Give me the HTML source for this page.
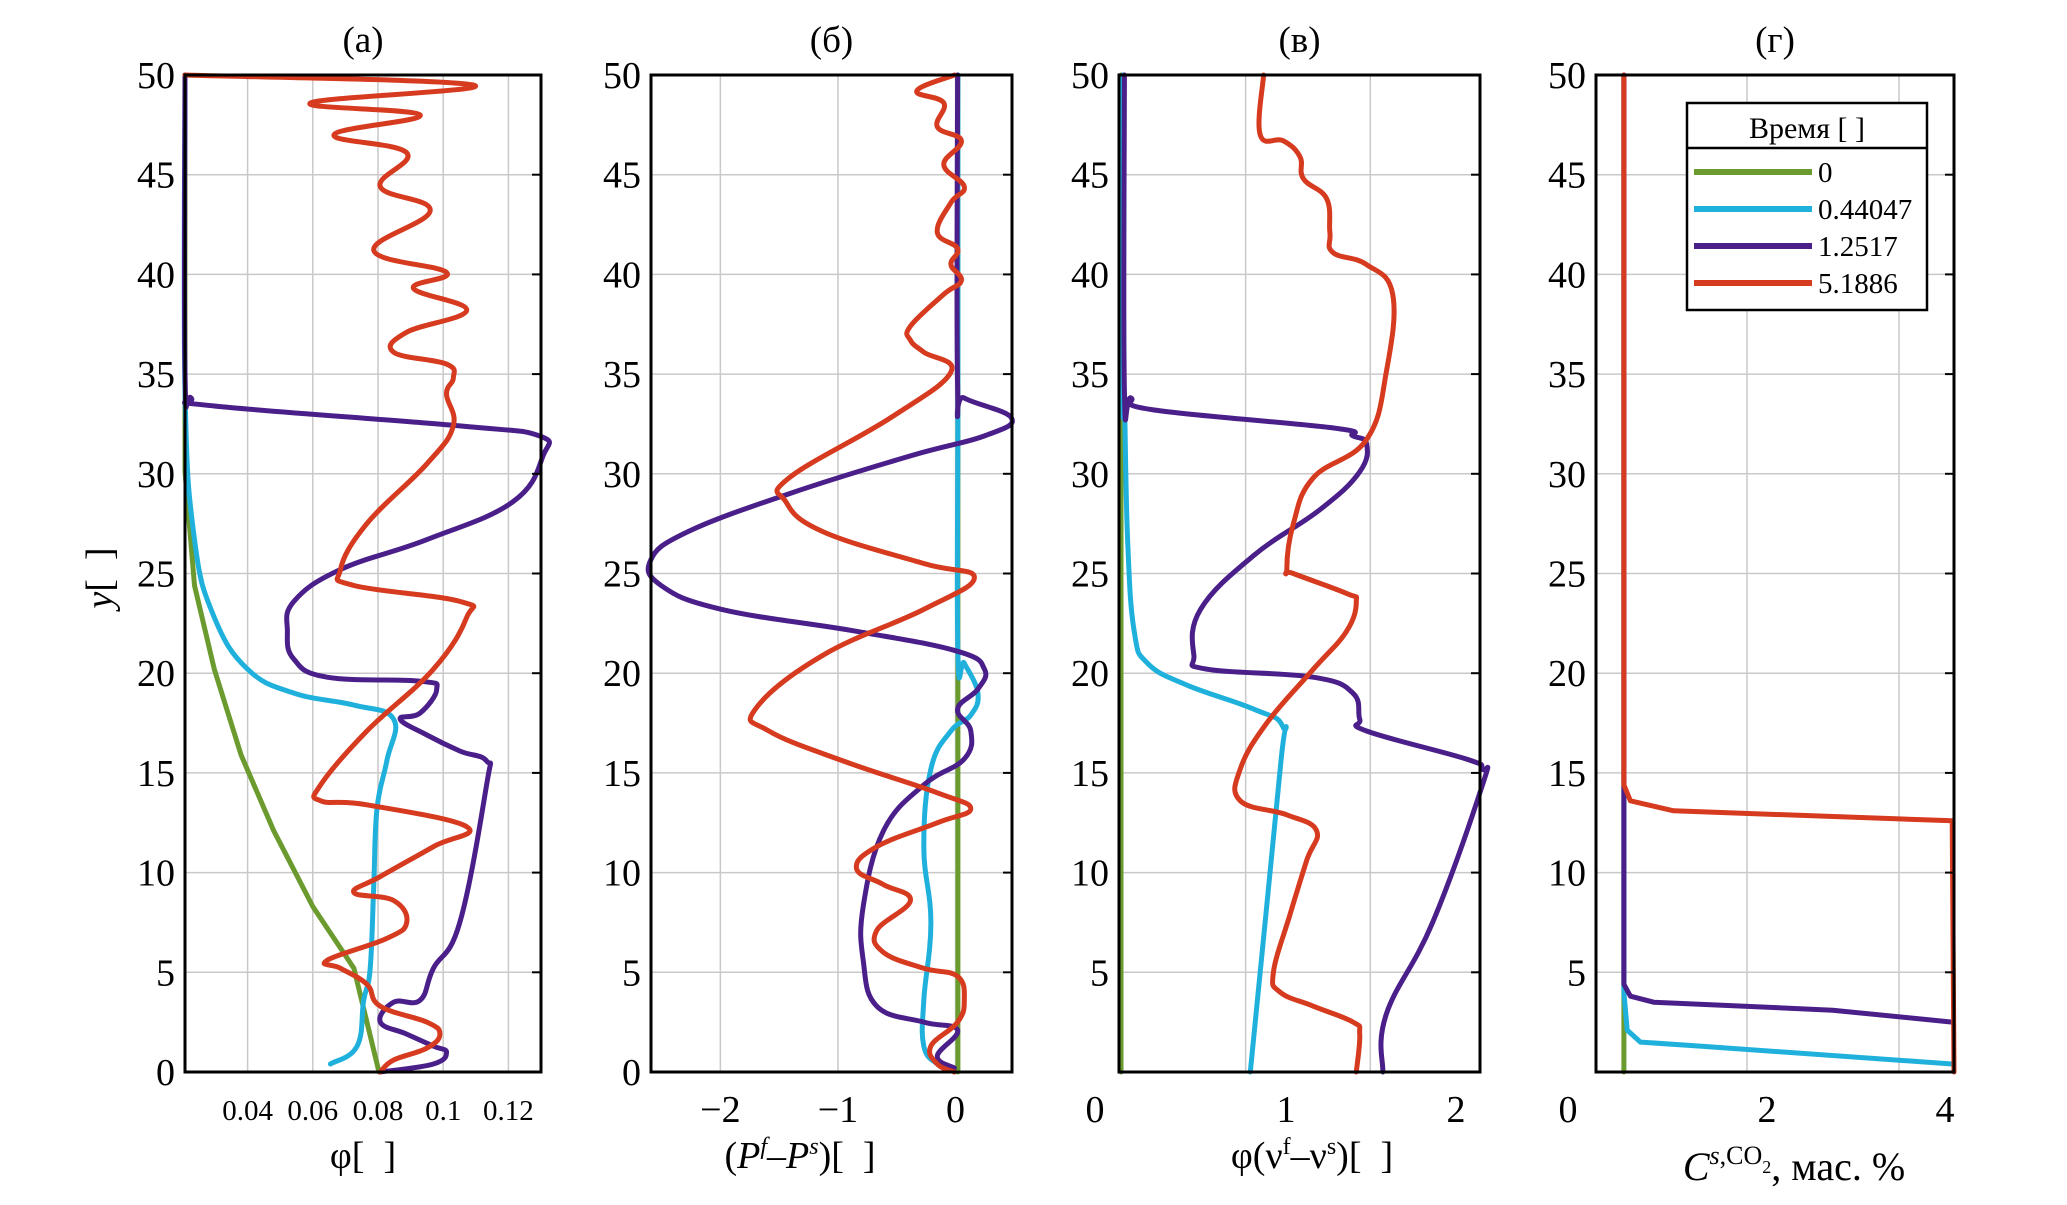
<!DOCTYPE html>
<html><head><meta charset="utf-8"><style>
html,body{margin:0;padding:0;background:#fff;}
svg{display:block;font-family:"Liberation Serif","DejaVu Serif",serif;}
</style></head><body>
<svg id="chart" width="2067" height="1205" viewBox="0 0 2067 1205" xmlns="http://www.w3.org/2000/svg">
<g id="grids"></g>
<g id="series"></g>
<g id="frames"></g>
<g id="labels"></g>
<g id="legend"></g>
</svg>
<script>
// ---- data (x, y pairs in data units) ----
const yTicks = [0,5,10,15,20,25,30,35,40,45,50];
const legendLabels = ["0","0.44047","1.2517","5.1886"];
const seriesColors = ["#6b9b2f","#1fb1dc","#4a1f8a","#d63a1f"];
// panel a
const aGreen = [[0.0208,50],[0.0208,30.1],[0.0237,24.4],[0.0298,20.2],[0.038,15.9],[0.048,12.1],[0.060,8.3],[0.0726,5.2],[0.0803,0]];
const aCyan = [[0.0208,50],[0.0208,34.2],[0.0237,26.7],[0.0298,22.8],[0.04,20.2],[0.0542,19.0],[0.0726,18.4],[0.0848,17.7],[0.0827,15.6],[0.0797,13.2],[0.0787,9.4],[0.0776,5.2],[0.0756,3.6],[0.0736,1.3],[0.0654,0.4]];
const aPurple = [[0.0208,50],[0.0208,35.1],[0.0227,33.8],[0.0298,33.4],[0.1051,32.4],[0.1295,31.9],[0.1306,30.9],[0.1214,28.6],[0.095,26.7],[0.0685,25.2],[0.0542,23.6],[0.0522,22.1],[0.0542,20.7],[0.0644,19.8],[0.0929,19.6],[0.098,19.2],[0.0929,18.0],[0.0868,17.7],[0.095,16.9],[0.1051,16.1],[0.1133,15.6],[0.1133,14.4],[0.1051,7.5],[0.097,5.2],[0.0929,3.6],[0.0848,3.5],[0.0807,2.5],[0.0888,1.9],[0.097,1.3],[0.101,1.0],[0.097,0.4],[0.0807,0]];
const aRed = [[0.0208,50],[0.1092,49.5],[0.0593,48.6],[0.0929,48.0],[0.0665,47.0],[0.0888,46.1],[0.0807,44.4],[0.096,43.2],[0.0787,41.2],[0.101,40.1],[0.0909,39.3],[0.1072,38.2],[0.0888,37.1],[0.0848,36.1],[0.101,35.5],[0.1031,34.8],[0.101,34.0],[0.1031,32.4],[0.095,30.5],[0.0766,27.5],[0.0685,25.2],[0.0726,24.4],[0.1051,23.6],[0.1072,22.8],[0.097,20.2],[0.0766,17.1],[0.0624,14.4],[0.0624,13.6],[0.0766,13.4],[0.1072,12.3],[0.097,11.3],[0.0807,9.8],[0.0726,9.0],[0.0848,8.6],[0.0888,7.5],[0.0827,6.7],[0.0644,5.6],[0.0685,5.2],[0.0766,4.4],[0.0807,3.3],[0.095,2.5],[0.099,1.9],[0.095,1.2],[0.0848,0.6],[0.0807,0]];
// panel b
const bGreen = [[0.02,0],[0.02,50]];
const bCyan = [[0.02,50],[0.02,34],[0.02,21],[0.074,20.5],[0.19,19.0],[0.13,17.9],[-0.04,17.1],[-0.21,15.2],[-0.27,11.3],[-0.21,7.5],[-0.27,3.6],[-0.27,1.3],[-0.155,0.4],[-0.04,0.1]];
const bPurple = [[0.017,50],[0.017,34.4],[0.074,33.8],[0.476,32.8],[0.246,31.9],[-0.384,30.9],[-1.415,29.0],[-2.275,27.1],[-2.59,25.7],[-2.504,24.4],[-1.989,23.2],[-0.842,22.1],[0.017,21.1],[0.246,20.2],[0.189,19.2],[0.017,18.2],[0.13,17.1],[0.074,15.7],[-0.27,14.4],[-0.613,12.1],[-0.785,8.3],[-0.785,5.6],[-0.67,3.3],[-0.27,2.5],[0.017,2.1],[-0.155,0.8],[-0.01,0.2]];
const bRed = [[-0.01,50],[-0.33,49.2],[-0.10,48.6],[-0.155,47.4],[0.05,46.7],[-0.10,45.5],[0.074,44.4],[-0.04,43.6],[-0.155,42.1],[0.017,41.3],[-0.04,40.5],[0.05,39.7],[-0.10,39.0],[-0.384,37.4],[-0.384,36.7],[-0.27,36.1],[-0.04,35.1],[-0.556,32.8],[-1.415,29.8],[-1.444,28.6],[-1.129,27.1],[-0.27,25.5],[0.16,24.8],[-0.27,23.2],[-1.129,20.9],[-1.702,18.2],[-1.587,17.1],[-0.957,15.6],[-0.155,14.0],[0.13,13.2],[-0.155,12.5],[-0.67,11.3],[-0.842,10.2],[-0.613,9.4],[-0.384,8.6],[-0.67,7.1],[-0.613,6.0],[-0.27,5.2],[0.017,4.8],[0.074,3.6],[0.017,2.5],[-0.21,1.3],[-0.155,0.4],[-0.01,0]];
// panel c
const cGreen = [[0,0],[0,50]];
const cCyan = [[0.016,50],[0.016,34],[0.027,33.8],[0.053,26.7],[0.106,22.1],[0.213,20.5],[0.53,19.4],[1.064,18.2],[1.30,17.3],[1.277,15.2],[1.037,0]];
const cPurple = [[0.027,50],[0.027,34.2],[0.08,33.8],[0.266,33.2],[1.70,32.3],[1.86,31.9],[1.97,31.5],[1.915,30.1],[1.596,28.2],[1.064,25.9],[0.638,23.2],[0.585,20.9],[0.69,20.2],[1.543,19.8],[1.86,19.0],[1.915,17.7],[1.97,17.1],[2.766,15.7],[2.90,15.2],[2.90,14.4],[2.5,7.5],[2.128,2.9],[2.10,0]];
const cRed = [[1.144,50],[1.117,47.0],[1.303,46.7],[1.436,45.9],[1.463,44.8],[1.649,43.8],[1.676,42.1],[1.70,41.1],[1.968,40.5],[2.18,39.0],[2.128,35.1],[1.968,31.7],[1.543,29.8],[1.383,27.5],[1.33,25.2],[1.383,25.0],[1.809,24.0],[1.888,23.6],[1.809,22.1],[1.543,20.2],[1.17,17.5],[0.957,15.2],[0.957,13.6],[1.33,12.9],[1.569,12.1],[1.489,10.6],[1.356,7.9],[1.223,5.0],[1.277,4.0],[1.543,3.3],[1.862,2.5],[1.915,1.9],[1.888,0]];
// panel d
const dGreen = [[0.39,0],[0.39,50]];
const dCyan = [[0.39,50],[0.39,4.0],[0.427,2.1],[0.577,1.5],[1.25,1.3],[4.10,0.4]];
const dPurple = [[0.39,50],[0.39,4.4],[0.464,3.8],[0.727,3.5],[2.75,3.1],[4.10,2.5]];
const dRed = [[0.39,50],[0.39,14.4],[0.464,13.6],[0.951,13.1],[4.10,12.6],[4.12,0]];
const aXTicks = [0.04,0.06,0.08,0.1,0.12];
const bXTicks = [-2,-1,0];

const NS="http://www.w3.org/2000/svg";
function mk(tag,attrs,parent){const e=document.createElementNS(NS,tag);for(const k in attrs)e.setAttribute(k,attrs[k]);parent.appendChild(e);return e;}
function lin(d0,d1,r0,r1){return v=>r0+(v-d0)/(d1-d0)*(r1-r0);}
const Y0=75,Y1=1072;
const sy=lin(0,50,Y1,Y0);
const panels=[
 {id:"a",x0:185,x1:541,sx:lin(0.0208,0.130,185,541),data:[aGreen,aCyan,aPurple,aRed],title:"(а)",smooth:true},
 {id:"b",x0:651,x1:1012,sx:lin(-2.59,0.48,651,1012),data:[bGreen,bCyan,bPurple,bRed],title:"(б)",smooth:true},
 {id:"c",x0:1119,x1:1480,sx:lin(-0.016,2.88,1119,1480),data:[cGreen,cCyan,cPurple,cRed],title:"(в)",smooth:true},
 {id:"d",x0:1596,x1:1954,sx:lin(0.075,4.12,1596,1954),data:[dGreen,dCyan,dPurple,dRed],title:"(г)",smooth:false}
];
function pathD(pts,smooth){
  if(!smooth||pts.length<3) return pts.map((p,j)=>(j?"L":"M")+p[0].toFixed(1)+","+p[1].toFixed(1)).join("");
  let d="M"+pts[0][0].toFixed(1)+","+pts[0][1].toFixed(1);
  for(let i=0;i<pts.length-1;i++){
    const p0=pts[Math.max(0,i-1)],p1=pts[i],p2=pts[i+1],p3=pts[Math.min(pts.length-1,i+2)];
    const t=0.2;
    const c1=[p1[0]+(p2[0]-p0[0])*t,p1[1]+(p2[1]-p0[1])*t];
    const c2=[p2[0]-(p3[0]-p1[0])*t,p2[1]-(p3[1]-p1[1])*t];
    d+="C"+c1[0].toFixed(1)+","+c1[1].toFixed(1)+" "+c2[0].toFixed(1)+","+c2[1].toFixed(1)+" "+p2[0].toFixed(1)+","+p2[1].toFixed(1);
  }
  return d;
}
const G=document.getElementById("grids"),S=document.getElementById("series"),F=document.getElementById("frames"),L=document.getElementById("labels"),LG=document.getElementById("legend");
const names=["t0","t044047","t12517","t51886"];
panels.forEach(p=>{
  yTicks.forEach(t=>{ if(t===0||t===50) return;
    const l=mk("line",{x1:p.x0,x2:p.x1,y1:sy(t),y2:sy(t),stroke:"#c9c9c9","stroke-width":1.5},G);
    
    
    const tk=mk("line",{x1:p.x1-9,x2:p.x1,y1:sy(t),y2:sy(t),stroke:"#000","stroke-width":2},F);
    
    
  });
  let vx=[];
  if(p.id==="a") vx=aXTicks.map(p.sx);
  if(p.id==="b") vx=bXTicks.map(p.sx);
  if(p.id==="c") vx=[1,2].map(p.sx);
  if(p.id==="d") vx=[1747,1899];
  vx.forEach(x=>{
    const l=mk("line",{x1:x,x2:x,y1:Y0,y2:Y1,stroke:"#c9c9c9","stroke-width":1.5},G);
    
    
  });
  p.data.forEach((arr,i)=>{
    const pts=arr.map(pt=>[p.sx(pt[0]),sy(pt[1])]);
    const path=mk("path",{d:pathD(pts,p.smooth&&i>0),fill:"none",stroke:seriesColors[i],"stroke-width":5,"stroke-linejoin":"round","stroke-linecap":"round"},S);
    
    
  });
  const r=mk("rect",{x:p.x0,y:Y0,width:p.x1-p.x0,height:Y1-Y0,fill:"none",stroke:"#000","stroke-width":3},F);
  
  
  const tt=mk("text",{x:(p.x0+p.x1)/2,y:52,"font-size":37,"text-anchor":"middle"},L);
  tt.textContent=p.title;
  
  
  yTicks.forEach(t=>{
    if(t===0&&(p.id==="c"||p.id==="d")) return;
    const tx=mk("text",{x:p.x0-10,y:sy(t)+13,"font-size":38,"text-anchor":"end"},L);
    tx.textContent=String(t);
    
    
  });
});
function txt(s,x,y,fs,anchor,name){const t=mk("text",{x:x,y:y,"font-size":fs,"text-anchor":anchor||"middle"},L);t.innerHTML=s;return t;}
aXTicks.forEach(v=>{txt(String(v),panels[0].sx(v),1120,29,"middle","x-tick-label");});
bXTicks.forEach(v=>{txt(v<0?"\u2212"+(-v):String(v),panels[1].sx(v),1122,38,"middle","x-tick-label");});
[["0",1095],["1",1286],["2",1456]].forEach(a=>txt(a[0],a[1],1122,38,"middle","x-tick-label"));
[["0",1568],["2",1767],["4",1945]].forEach(a=>txt(a[0],a[1],1122,38,"middle","x-tick-label"));
txt("φ[&#160;&#160;]",363,1168,38,"middle","x-axis-title-a");
txt("(<tspan font-style='italic'>P</tspan><tspan font-size='24' dy='-14' font-style='italic'>f</tspan><tspan dy='14'>–</tspan><tspan font-style='italic'>P</tspan><tspan font-size='24' dy='-14' font-style='italic'>s</tspan><tspan dy='14'>)[&#160;&#160;]</tspan>",800,1168,38,"middle","x-axis-title-b");
txt("φ(ν<tspan font-size='24' dy='-14'>f</tspan><tspan dy='14'>–ν</tspan><tspan font-size='24' dy='-14'>s</tspan><tspan dy='14'>)[&#160;&#160;]</tspan>",1312,1168,38,"middle","x-axis-title-c");
txt("<tspan font-style='italic'>C</tspan><tspan font-size='26' dy='-16' font-style='italic'>s</tspan><tspan font-size='26'>,CO</tspan><tspan font-size='18' dy='9'>2</tspan><tspan dy='7'>, мас. %</tspan>",1794,1180,40,"middle","x-axis-title-d");
const yl=txt("<tspan font-style='italic'>y</tspan>[&#160;&#160;]",0,0,38,"middle","y-axis-title");
yl.setAttribute("transform","translate(112,578) rotate(-90)");
// legend
const lb=mk("rect",{x:1687,y:103,width:240,height:207,fill:"#fff",stroke:"#000","stroke-width":2.5},LG);


const ls=mk("line",{x1:1687,x2:1927,y1:148,y2:148,stroke:"#000","stroke-width":2.5},LG);


const lt=mk("text",{x:1807,y:138,"font-size":30,"text-anchor":"middle"},LG);
lt.textContent="Время [ ]";


const ly=[172,209,246,283];
legendLabels.forEach((s,i)=>{
  const g=mk("g",{},LG);
  
  
  mk("line",{x1:1694,x2:1812,y1:ly[i],y2:ly[i],stroke:seriesColors[i],"stroke-width":6},g);
  const t=mk("text",{x:1818,y:ly[i]+10,"font-size":29},g);
  t.textContent=s;
});
</script>
</body></html>
